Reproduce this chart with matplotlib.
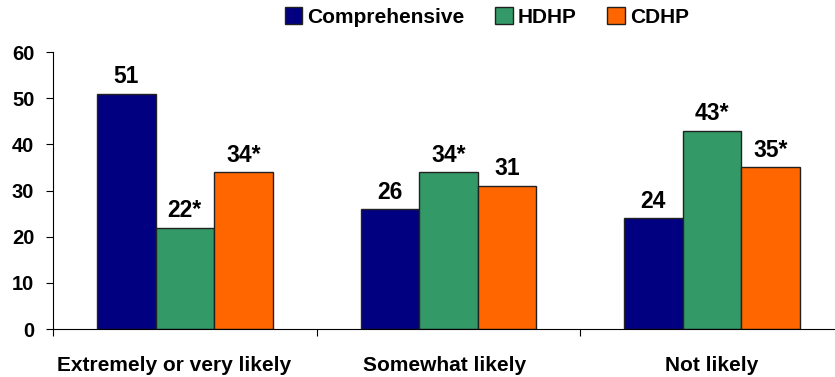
import matplotlib
matplotlib.use("Agg")
import matplotlib.pyplot as plt
import numpy as np

categories = ["Extremely or very likely", "Somewhat likely", "Not likely"]
series_names = ["Comprehensive", "HDHP", "CDHP"]
comprehensive = [51, 26, 24]
hdhp = [22, 34, 43]
cdhp = [34, 31, 35]
comprehensive_labels = ["51", "26", "24"]
hdhp_labels = ["22*", "34*", "43*"]
cdhp_labels = ["34*", "31", "35*"]
y_ticks = [0, 10, 20, 30, 40, 50, 60]

colors = ["#000080", "#339966", "#FF6600"]

plt.rcParams["font.family"] = ["Liberation Sans", "DejaVu Sans"]
plt.rcParams["font.weight"] = "bold"

fig = plt.figure(figsize=(8.35, 3.77), dpi=100)
# the plot area runs a little past the right edge of the canvas
ax = fig.add_axes([0.0635, 0.127, 0.9467, 0.735])

x = np.arange(len(categories))
width = 0.222
values = [comprehensive, hdhp, cdhp]
labels = [comprehensive_labels, hdhp_labels, cdhp_labels]
for i, (vals, labs) in enumerate(zip(values, labels)):
    pos = x + (i - 1) * width
    bars = ax.bar(pos, vals, width, color=colors[i], edgecolor="#222222",
                  linewidth=1.0, label=series_names[i], zorder=2)
    for b, lab in zip(bars, labs):
        ax.text(b.get_x() + b.get_width() / 2, b.get_height() + 1.2, lab,
                ha="center", va="bottom", fontsize=16.5, fontweight="bold")

ax.set_xlim(-0.5, 2.5)
ax.set_ylim(0, 60)
ax.set_yticks(y_ticks)
ax.set_yticklabels([str(t) for t in y_ticks], fontsize=14.5, fontweight="bold")
ax.set_xticks([-0.5, 0.5, 1.5, 2.5])
ax.set_xticklabels([])
ax.set_xticks(x + np.array([-0.04, -0.015, 0.0]), minor=True)
ax.set_xticklabels(categories, minor=True, fontsize=15, fontweight="bold")
ax.tick_params(axis="x", which="minor", length=0, pad=19.5)
ax.tick_params(axis="x", which="major", length=5, direction="out")
ax.tick_params(axis="y", length=5, direction="out", pad=8.5)
ax.spines["top"].set_visible(False)
ax.spines["right"].set_visible(False)

ax.legend(loc="center", bbox_to_anchor=(0.583, 0.955), bbox_transform=fig.transFigure,
          ncol=3, frameon=False, handlelength=0.85, handleheight=0.85,
          handletextpad=0.25, columnspacing=1.45, borderpad=0.0,
          prop={"weight": "bold", "size": 15})

fig.savefig("out.png", dpi=100)
